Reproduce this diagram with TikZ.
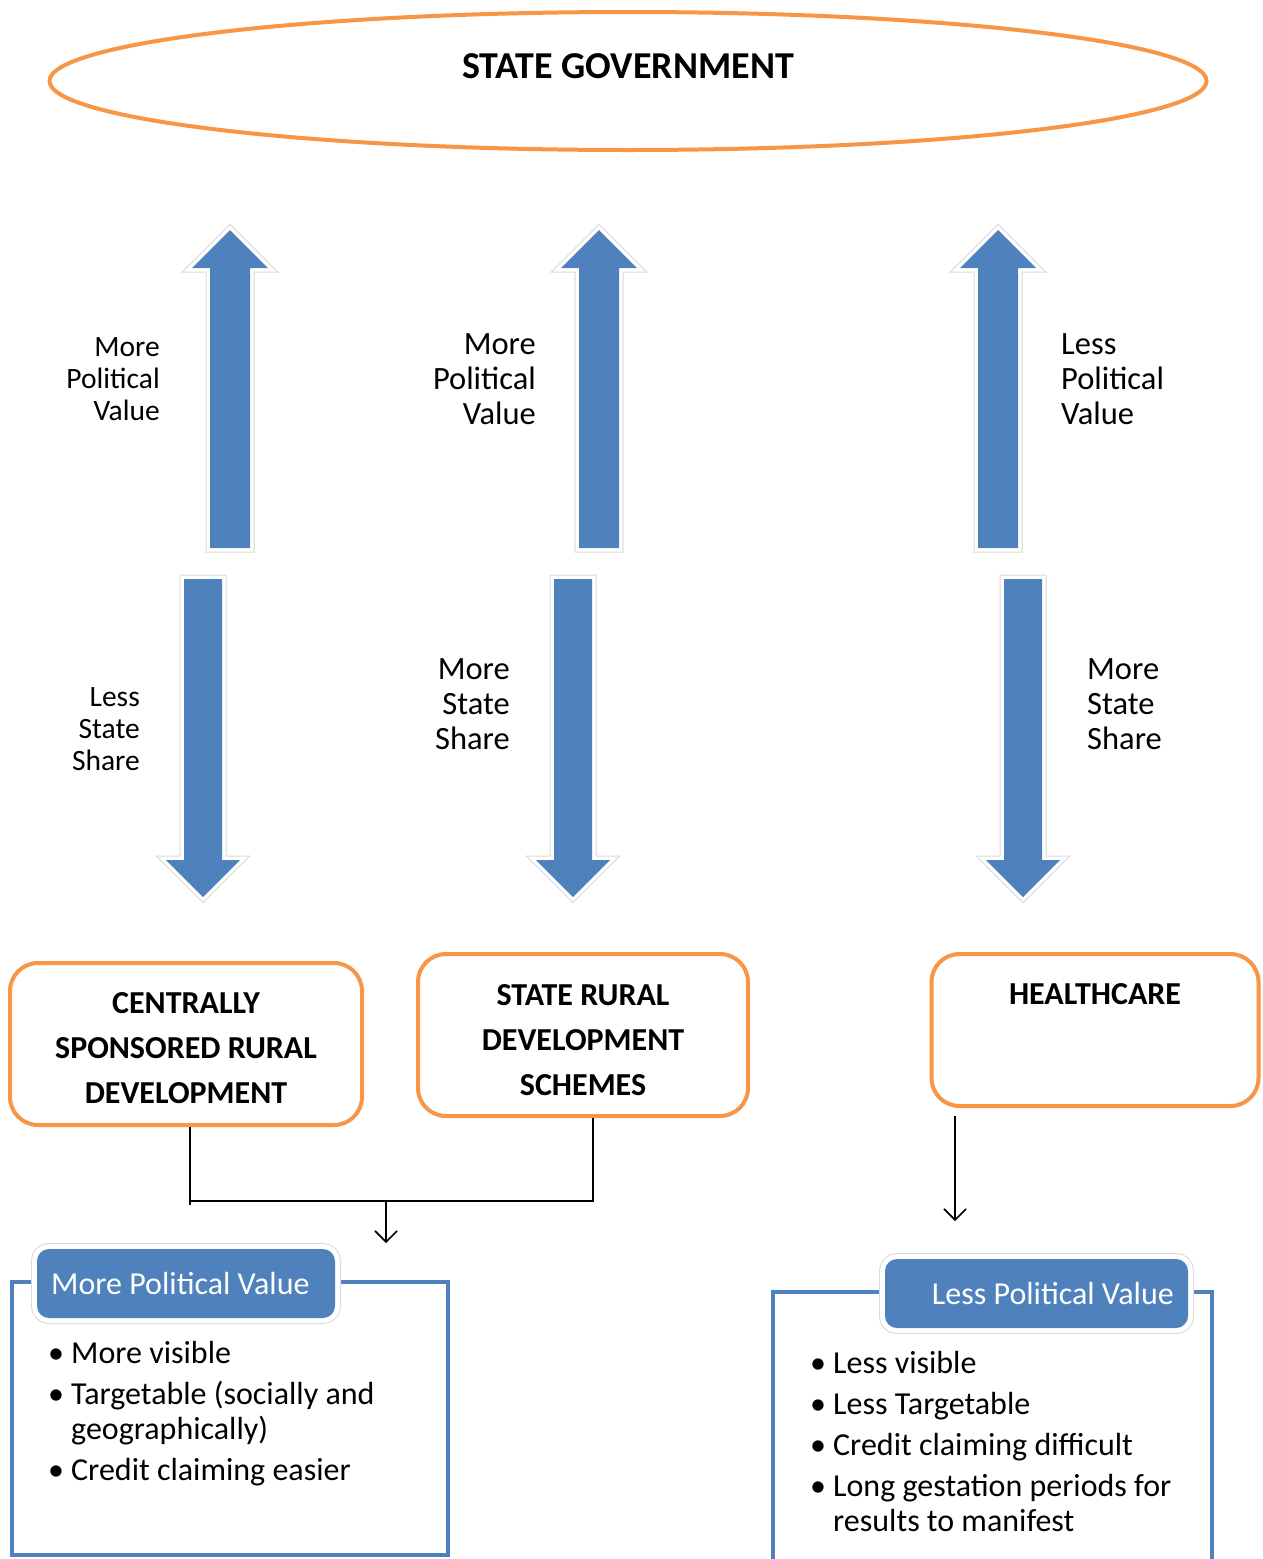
\documentclass[tikz,border=0pt]{standalone}
\usepackage{fontspec}
\setmainfont{Carlito}
\usetikzlibrary{shapes.geometric,arrows.meta}
\definecolor{orng}{HTML}{F79646}
\definecolor{blu}{HTML}{4F81BD}
\newcommand{\fatup}[4]{\path[fatarrow] (#1-20,#4) -- (#1-20,#3) -- (#1-38,#3) -- (#1,#2) -- (#1+38,#3) -- (#1+20,#3) -- (#1+20,#4) -- cycle;}
\newcommand{\fatdown}[4]{\path[fatarrow] (#1-19,#4) -- (#1-19,#3) -- (#1-37,#3) -- (#1,#2) -- (#1+37,#3) -- (#1+19,#3) -- (#1+19,#4) -- cycle;}
\begin{document}
\begin{tikzpicture}[x=1pt,y=-1pt,
  fatarrow/.style={fill=blu, line join=miter,
    preaction={draw=black!15, line width=9pt, line join=miter},
    preaction={draw=white, line width=7pt, line join=miter}},
  lblsmall/.style={inner sep=0pt, font=\fontsize{29.5}{32}\selectfont},
  lblbig/.style={inner sep=0pt, font=\fontsize{32.5}{35}\selectfont},
  obox/.style={draw=orng, line width=4pt, rounded corners=28pt, fill=white,
    align=center, font=\fontsize{32}{45}\selectfont\bfseries},
  conn/.style={draw=black, line width=1.6pt},
  panel/.style={draw=blu, line width=4pt, fill=white},
  tab/.style={fill=blu, rounded corners=12pt,
    preaction={draw=black!15, line width=12pt, rounded corners=12pt},
    preaction={draw=white, line width=10pt, rounded corners=12pt}},
  tabtext/.style={text=white, inner sep=0pt, font=\fontsize{32}{35}\selectfont},
  blist/.style={inner sep=0pt, font=\fontsize{32}{35}\selectfont, anchor=base west}
]
\useasboundingbox (0,0) rectangle (1263,1559);
\fill[white] (0,0) rectangle (1263,1559);

% state government ellipse
\node[ellipse, draw=orng, line width=4pt, minimum width=1157pt, minimum height=138pt] (sg) at (628,81) {};
\node[font=\fontsize{38}{42}\selectfont\bfseries, inner sep=0pt] (sgt) at (628,66) {STATE GOVERNMENT};

% big arrows
\fatup{230}{230}{268}{548}
\fatup{599}{230}{268}{548}
\fatup{998}{230}{268}{548}
\fatdown{203}{897}{860}{579}
\fatdown{573}{897}{860}{579}
\fatdown{1023}{897}{860}{579}

% arrow labels
\node[lblsmall, align=right, anchor=east] (l1) at (160,379) {More\\Political\\Value};
\node[lblbig, align=right, anchor=east] (l2) at (536,379) {More\\Political\\Value};
\node[lblbig, align=left, anchor=west] (l3) at (1061,379) {Less\\Political\\Value};
\node[lblsmall, align=right, anchor=east] (l4) at (140,729) {Less\\State\\Share};
\node[lblbig, align=right, anchor=east] (l5) at (510,704) {More\\State\\Share};
\node[lblbig, align=left, anchor=west] (l6) at (1087,704) {More\\State\\Share};

% orange boxes
\node[obox, minimum width=352pt, minimum height=162pt] (csr) at (186,1044) {};
\node[obox, minimum width=330pt, minimum height=162pt] (srd) at (583,1035) {};
\node[obox, minimum width=327pt, minimum height=152pt] (hc) at (1095,1030) {};
\node[obox, draw=none, fill=none, inner sep=0pt] (csrt) at (186,1048) {CENTRALLY\\SPONSORED RURAL\\DEVELOPMENT};
\node[obox, draw=none, fill=none, inner sep=0pt] (srdt) at (583,1040) {STATE RURAL\\DEVELOPMENT\\SCHEMES};
\node[font=\fontsize{32}{35}\selectfont\bfseries, inner sep=0pt] (hct) at (1095,994) {HEALTHCARE};

% connectors
\coordinate (j1) at (190,1201);
\coordinate (j2) at (593,1201);
\coordinate (jm) at (386,1201);
\coordinate (jmend) at (386,1243);
\coordinate (hcstart) at (955,1116);
\coordinate (hcend) at (955,1221);
\draw[conn] ([xshift=4pt]csr.south) -- ([yshift=-4pt]j1);
\draw[conn] (j1) -- (j2) -- (srd.south -| j2);
\draw[conn, -{Straight Barb[length=11pt,width=22pt]}] (jm) -- (jmend);
\draw[conn, -{Straight Barb[length=11pt,width=22pt]}] (hcstart) -- (hcend);

% bottom panels
\node[panel, minimum width=436pt, minimum height=273pt] (lp) at (230,1418.5) {};
\node[panel, minimum width=439pt, minimum height=280pt] (rp) at (992.5,1432) {};
\path[tab] (37,1249) rectangle (335,1318);
\path[tab] (885,1259) rectangle (1188,1328);
\node[tabtext, anchor=west] (lpt) at (51,1283) {More Political Value};
\node[tabtext, anchor=east] (rpt) at (1174,1293) {Less Political Value};

\node[blist] (lpl) at (48,1363) {\begin{tabular}[t]{@{}l@{}l@{}}
\makebox[23pt][l]{\textbullet} & More visible\\[6pt]
\makebox[23pt][l]{\textbullet} & Targetable (socially and\\
 & geographically)\\[6pt]
\makebox[23pt][l]{\textbullet} & Credit claiming easier
\end{tabular}};
\node[blist] (rpl) at (810,1373) {\begin{tabular}[t]{@{}l@{}l@{}}
\makebox[23pt][l]{\textbullet} & Less visible\\[6pt]
\makebox[23pt][l]{\textbullet} & Less Targetable\\[6pt]
\makebox[23pt][l]{\textbullet} & Credit claiming difficult\\[6pt]
\makebox[23pt][l]{\textbullet} & Long gestation periods for\\
 & results to manifest
\end{tabular}};
\end{tikzpicture}
\end{document}
